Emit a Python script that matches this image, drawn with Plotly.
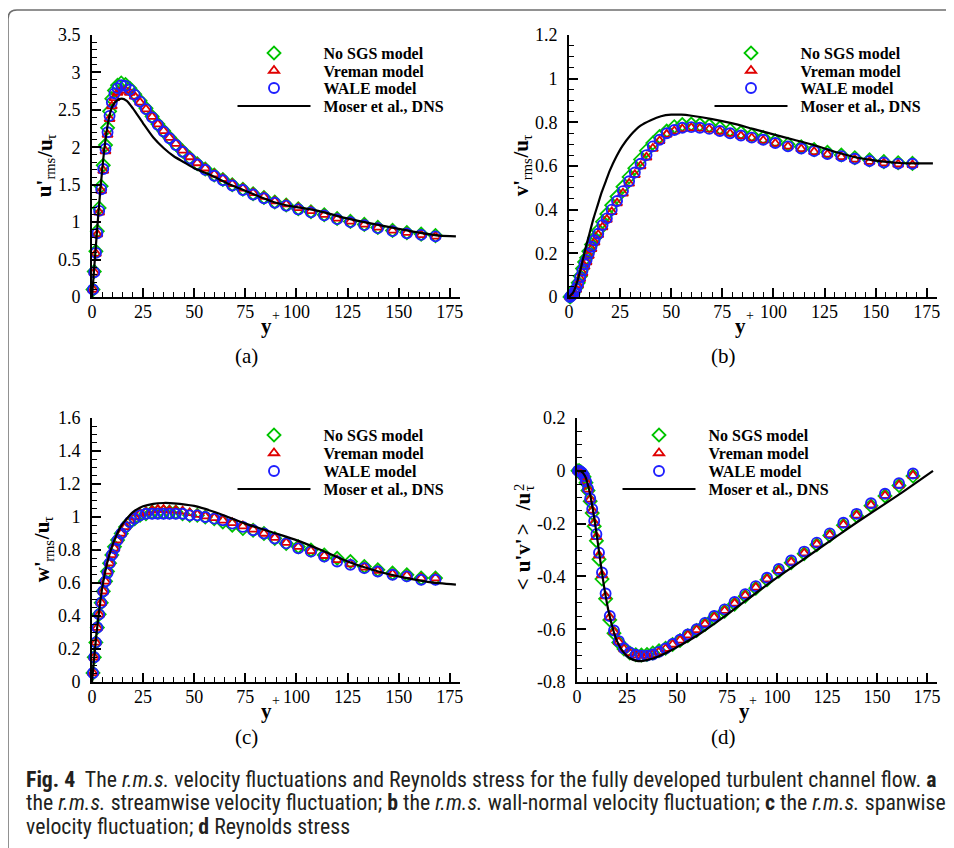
import plotly.graph_objects as go

# ---------------- data ----------------
yplus = [0.5, 1.1, 1.9, 2.6, 3.5, 4.5, 5.5, 6.6, 7.6, 8.6,
         9.7, 11.0, 12.5, 14.3, 16.4, 18.5, 20.9, 23.5, 26.4, 29.4,
         32.2, 35.0, 37.9, 41.0, 44.3, 47.8, 51.5, 55.4, 59.8, 64.0,
         68.6, 73.8, 78.8, 84.1, 89.4, 95.0, 100.9, 107.1, 113.6, 119.9,
         126.4, 133.2, 139.8, 147.0, 154.0, 161.0, 168.0]

# (a) u'rms / u_tau
a_nosgs = [0.10, 0.34, 0.61, 0.88, 1.19, 1.48, 1.76, 2.03, 2.26, 2.48,
           2.65, 2.76, 2.83, 2.86, 2.84, 2.79, 2.71, 2.62, 2.52, 2.41,
           2.31, 2.22, 2.13, 2.04, 1.95, 1.86, 1.78, 1.71, 1.63, 1.57,
           1.50, 1.44, 1.38, 1.33, 1.27, 1.23, 1.18, 1.14, 1.10, 1.05,
           1.01, 0.97, 0.93, 0.89, 0.86, 0.84, 0.82]
a_vreman = [0.10, 0.33, 0.58, 0.84, 1.13, 1.42, 1.69, 1.95, 2.17, 2.38,
            2.55, 2.66, 2.73, 2.76, 2.76, 2.73, 2.68, 2.60, 2.51, 2.41,
            2.31, 2.22, 2.13, 2.05, 1.96, 1.87, 1.79, 1.72, 1.64, 1.58,
            1.51, 1.45, 1.39, 1.34, 1.28, 1.24, 1.19, 1.15, 1.10, 1.05,
            1.01, 0.97, 0.93, 0.89, 0.86, 0.83, 0.81]
a_wale = [0.10, 0.33, 0.59, 0.85, 1.15, 1.44, 1.71, 1.98, 2.20, 2.42,
          2.60, 2.72, 2.79, 2.83, 2.82, 2.77, 2.70, 2.61, 2.51, 2.40,
          2.30, 2.21, 2.12, 2.03, 1.94, 1.85, 1.77, 1.70, 1.62, 1.56,
          1.49, 1.43, 1.37, 1.32, 1.26, 1.22, 1.17, 1.13, 1.09, 1.04,
          1.00, 0.96, 0.92, 0.88, 0.85, 0.83, 0.81]
a_dns_y = [0, 1, 2, 3, 4, 5, 6, 7, 8, 9, 10, 12, 14.5, 17, 20, 25, 30, 35, 40, 45,
           50, 58, 66, 74, 82, 90, 98, 107, 115, 123, 135, 150, 160, 170, 178]
a_dns = [0, 0.36, 0.72, 1.07, 1.40, 1.70, 1.97, 2.18, 2.35, 2.47, 2.55, 2.62, 2.65, 2.62,
         2.52, 2.32, 2.13, 1.99, 1.88, 1.80, 1.72, 1.63, 1.52, 1.43, 1.34, 1.26, 1.21,
         1.17, 1.12, 1.06, 0.99, 0.91, 0.86, 0.82, 0.81]

# (b) v'rms / u_tau
b_nosgs = [0.0, 0.006, 0.014, 0.025, 0.042, 0.065, 0.095, 0.13, 0.16, 0.18,
           0.21, 0.24, 0.27, 0.305, 0.345, 0.38, 0.42, 0.46, 0.505, 0.55,
           0.59, 0.63, 0.67, 0.705, 0.735, 0.76, 0.78, 0.79, 0.792, 0.79,
           0.785, 0.775, 0.765, 0.753, 0.742, 0.73, 0.715, 0.70, 0.688, 0.675,
           0.663, 0.65, 0.638, 0.628, 0.62, 0.615, 0.612]
b_vreman = [0.0, 0.004, 0.01, 0.02, 0.034, 0.055, 0.083, 0.11, 0.14, 0.16,
            0.19, 0.22, 0.25, 0.285, 0.32, 0.355, 0.39, 0.43, 0.475, 0.52,
            0.56, 0.60, 0.64, 0.68, 0.715, 0.745, 0.76, 0.77, 0.775, 0.772,
            0.768, 0.758, 0.748, 0.738, 0.728, 0.717, 0.703, 0.69, 0.678, 0.665,
            0.653, 0.642, 0.63, 0.62, 0.613, 0.608, 0.605]
b_wale = [0.0, 0.005, 0.012, 0.022, 0.038, 0.06, 0.09, 0.12, 0.15, 0.17,
          0.20, 0.23, 0.26, 0.29, 0.33, 0.36, 0.40, 0.44, 0.485, 0.53,
          0.57, 0.61, 0.65, 0.69, 0.72, 0.75, 0.765, 0.775, 0.778, 0.775,
          0.77, 0.76, 0.75, 0.74, 0.73, 0.72, 0.705, 0.69, 0.68, 0.668,
          0.655, 0.645, 0.633, 0.623, 0.616, 0.611, 0.61]
b_dns_y = [0, 2, 4, 6, 8, 10, 12, 14, 16, 18, 20, 23, 26, 30, 35, 40, 45, 50, 55, 60,
           70, 80, 90, 100, 110, 120, 130, 140, 150, 160, 170, 178]
b_dns = [0, 0.02, 0.07, 0.14, 0.22, 0.29, 0.36, 0.42, 0.48, 0.53, 0.58, 0.64, 0.69, 0.74,
         0.785, 0.81, 0.828, 0.835, 0.835, 0.83, 0.815, 0.795, 0.77, 0.745, 0.72, 0.695,
         0.665, 0.64, 0.625, 0.615, 0.612, 0.612]

# (c) w'rms / u_tau
c_nosgs = [0.055, 0.15, 0.24, 0.33, 0.41, 0.48, 0.55, 0.61, 0.67, 0.72,
           0.77, 0.82, 0.86, 0.90, 0.94, 0.97, 0.99, 1.01, 1.02, 1.03,
           1.03, 1.03, 1.03, 1.03, 1.02, 1.01, 1.01, 1.00, 0.99, 0.97,
           0.95, 0.93, 0.92, 0.90, 0.87, 0.84, 0.82, 0.80, 0.77, 0.75,
           0.73, 0.70, 0.68, 0.66, 0.65, 0.63, 0.63]
c_vreman = [0.055, 0.15, 0.24, 0.33, 0.41, 0.48, 0.55, 0.61, 0.67, 0.72,
            0.77, 0.81, 0.86, 0.90, 0.94, 0.98, 1.00, 1.02, 1.03, 1.04,
            1.045, 1.045, 1.04, 1.04, 1.035, 1.025, 1.015, 1.005, 0.995, 0.98,
            0.965, 0.945, 0.925, 0.90, 0.875, 0.845, 0.82, 0.795, 0.765, 0.74,
            0.715, 0.695, 0.675, 0.655, 0.645, 0.63, 0.63]
c_wale = [0.055, 0.15, 0.24, 0.33, 0.41, 0.48, 0.55, 0.61, 0.66, 0.72,
          0.77, 0.81, 0.86, 0.90, 0.94, 0.97, 0.99, 1.01, 1.02, 1.02,
          1.02, 1.02, 1.02, 1.02, 1.02, 1.01, 1.01, 1.00, 0.99, 0.98,
          0.96, 0.94, 0.92, 0.90, 0.87, 0.84, 0.81, 0.79, 0.76, 0.73,
          0.71, 0.69, 0.67, 0.65, 0.64, 0.62, 0.62]
c_dns_y = [0, 0.5, 1, 1.5, 2, 3, 4, 5, 6, 7, 8, 10, 12, 14, 17, 20, 25, 30, 35, 40,
           50, 60, 75, 90, 100, 112, 125, 140, 150, 165, 178]
c_dns = [0, 0.07, 0.14, 0.20, 0.27, 0.38, 0.48, 0.57, 0.64, 0.70, 0.75, 0.83, 0.89, 0.94,
         0.99, 1.03, 1.065, 1.08, 1.085, 1.083, 1.067, 1.03, 0.96, 0.90, 0.86, 0.80, 0.73,
         0.67, 0.64, 0.605, 0.59]

# (d) <u'v'> / u_tau^2
d_nosgs = [0.0, 0.0, -0.004, -0.01, -0.023, -0.045, -0.075, -0.115, -0.16, -0.21,
           -0.265, -0.335, -0.41, -0.485, -0.565, -0.615, -0.65, -0.675, -0.69, -0.697,
           -0.698, -0.696, -0.69, -0.682, -0.672, -0.658, -0.643, -0.625, -0.605, -0.582,
           -0.557, -0.532, -0.505, -0.475, -0.445, -0.413, -0.38, -0.348, -0.314, -0.28,
           -0.245, -0.206, -0.171, -0.132, -0.095, -0.056, -0.02]
d_vreman = [0.0, 0.0, -0.003, -0.009, -0.021, -0.042, -0.07, -0.108, -0.15, -0.197,
            -0.25, -0.32, -0.395, -0.475, -0.555, -0.61, -0.648, -0.675, -0.69, -0.698,
            -0.70, -0.70, -0.695, -0.686, -0.674, -0.658, -0.642, -0.623, -0.603, -0.58,
            -0.555, -0.53, -0.502, -0.472, -0.442, -0.41, -0.378, -0.346, -0.312, -0.278,
            -0.243, -0.204, -0.169, -0.13, -0.094, -0.055, -0.018]
d_wale = [0.0, 0.0, -0.003, -0.008, -0.02, -0.04, -0.068, -0.105, -0.145, -0.19,
          -0.24, -0.31, -0.385, -0.465, -0.55, -0.605, -0.645, -0.672, -0.688, -0.697,
          -0.70, -0.70, -0.696, -0.686, -0.673, -0.656, -0.64, -0.62, -0.60, -0.576,
          -0.55, -0.525, -0.497, -0.467, -0.437, -0.405, -0.372, -0.34, -0.306, -0.272,
          -0.237, -0.197, -0.163, -0.123, -0.087, -0.047, -0.01]
d_dns_y = [0, 2, 4, 6, 8, 10, 12, 14, 16, 18, 20, 23, 26, 30, 33, 36, 40, 45, 50, 60,
           75, 90, 100, 120, 140, 160, 178]
d_dns = [0, -0.002, -0.02, -0.07, -0.15, -0.25, -0.36, -0.46, -0.54, -0.60, -0.645, -0.685,
         -0.708, -0.72, -0.72, -0.715, -0.705, -0.688, -0.668, -0.625, -0.545, -0.46, -0.405,
         -0.30, -0.195, -0.095, 0.0]

series_names = ["No SGS model", "Vreman model", "WALE model", "Moser et al., DNS"]

x_tickvals = [0, 25, 50, 75, 100, 125, 150, 175]
x_ticktext = ["0", "25", "50", "75", "100", "125", "150", "175"]
a_tickvals = [0, 0.5, 1, 1.5, 2, 2.5, 3, 3.5]
a_ticktext = ["0", "0.5", "1", "1.5", "2", "2.5", "3", "3.5"]
b_tickvals = [0, 0.2, 0.4, 0.6, 0.8, 1.0, 1.2]
b_ticktext = ["0", "0.2", "0.4", "0.6", "0.8", "1", "1.2"]
c_tickvals = [0, 0.2, 0.4, 0.6, 0.8, 1.0, 1.2, 1.4, 1.6]
c_ticktext = ["0", "0.2", "0.4", "0.6", "0.8", "1", "1.2", "1.4", "1.6"]
d_tickvals = [-0.8, -0.6, -0.4, -0.2, 0, 0.2]
d_ticktext = ["-0.8", "-0.6", "-0.4", "-0.2", "0", "0.2"]

# ---------------- layout helpers ----------------
# The page body has an 8 px margin, so the figure is drawn 8 px smaller and
# positions below are given in window pixels, converted to paper fractions.
OFF = 8
W, H = 954 - OFF, 848 - OFF


def px(x):
    return (x - OFF) / W


def py(y):
    return 1 - (y - OFF) / H


SERIF = "Liberation Serif"
CAPFONT = "Liberation Sans Narrow, Roboto Condensed, DejaVu Sans Condensed, Roboto, sans-serif"

marker_styles = [
    dict(symbol="diamond-open", size=10, color="#00c400", line=dict(width=1.8, color="#00c400")),
    dict(symbol="triangle-up-open", size=9, color="#e00000", line=dict(width=1.8, color="#e00000")),
    dict(symbol="circle-open", size=10, color="#1e1eff", line=dict(width=1.9, color="#1e1eff")),
]

panels = [
    dict(key="", les=[a_nosgs, a_vreman, a_wale], dx=a_dns_y, dy=a_dns,
         xdom=(92, 460), ydom=(297, 35), yr=[0, 3.5], tv=a_tickvals, tt=a_ticktext, ymin=0.1,
         leg_x=232.5, leg_rows=[53, 70.5, 88, 106]),
    dict(key="2", les=[b_nosgs, b_vreman, b_wale], dx=b_dns_y, dy=b_dns,
         xdom=(569, 937), ydom=(297, 35), yr=[0, 1.2], tv=b_tickvals, tt=b_ticktext, ymin=0.05,
         leg_x=709.5, leg_rows=[53, 70.5, 88, 106]),
    dict(key="3", les=[c_nosgs, c_vreman, c_wale], dx=c_dns_y, dy=c_dns,
         xdom=(92, 460), ydom=(682, 418), yr=[0, 1.6], tv=c_tickvals, tt=c_ticktext, ymin=0.05,
         leg_x=232.5, leg_rows=[435, 453, 471, 489]),
    dict(key="4", les=[d_nosgs, d_vreman, d_wale], dx=d_dns_y, dy=d_dns,
         xdom=(577, 937), ydom=(682, 418), yr=[-0.8, 0.2], tv=d_tickvals, tt=d_ticktext, ymin=0.05,
         leg_x=617.5, leg_rows=[435, 453, 471, 489]),
]

LEG_ITEM_W = 73
LEG_FONT = 16
LEG_OFFSET = (LEG_FONT * 1.3 + 3) / 2 + 5   # distance from legend top to item centre

fig = go.Figure()
layout_extra = {}
leg_count = 0


def next_legend():
    global leg_count
    leg_count += 1
    return "legend" if leg_count == 1 else "legend%d" % leg_count


def add_legend(lid, left, row):
    layout_extra[lid] = dict(
        x=px(left), y=py(row - LEG_OFFSET), xanchor="left", yanchor="top",
        itemwidth=LEG_ITEM_W, bgcolor="rgba(0,0,0,0)", borderwidth=0,
        font=dict(family=SERIF, size=LEG_FONT, color="black", weight="bold"),
        itemclick=False, itemdoubleclick=False)


for p in panels:
    k = p["key"]
    xa, ya = "x" + k, "y" + k
    for i, vals in enumerate(p["les"]):
        lid = next_legend()
        add_legend(lid, p["leg_x"], p["leg_rows"][i])
        fig.add_trace(go.Scatter(
            x=yplus, y=vals, mode="markers", name="\u00a0\u00a0" + series_names[i],
            marker=marker_styles[i], xaxis=xa, yaxis=ya, legend=lid,
            cliponaxis=False, hoverinfo="skip"))
    lid = next_legend()
    add_legend(lid, p["leg_x"], p["leg_rows"][3])
    fig.add_trace(go.Scatter(
        x=p["dx"], y=p["dy"], mode="lines", name="\u00a0\u00a0" + series_names[3],
        line=dict(color="black", width=2.2, shape="spline", smoothing=0.6),
        xaxis=xa, yaxis=ya, legend=lid, cliponaxis=False, hoverinfo="skip"))

    common = dict(ticks="inside", ticklen=9, tickwidth=1.5, tickcolor="black",
                  showline=True, linewidth=2, linecolor="black", showgrid=False,
                  zeroline=False, fixedrange=True,
                  tickfont=dict(family=SERIF, size=18, color="black"))
    layout_extra["xaxis" + k] = dict(
        domain=[px(p["xdom"][0]), px(p["xdom"][1])], anchor=ya, range=[0, 180],
        tickmode="array", tickvals=x_tickvals, ticktext=x_ticktext, ticklabelstandoff=-3,
        minor=dict(tickmode="linear", tick0=0, dtick=5, ticks="inside", ticklen=5,
                   tickwidth=1.2, tickcolor="black"),
        **common)
    layout_extra["yaxis" + k] = dict(
        domain=[py(p["ydom"][0]), py(p["ydom"][1])], anchor=xa, range=p["yr"],
        tickmode="array", tickvals=p["tv"], ticktext=p["tt"], ticklabelstandoff=6,
        minor=dict(tickmode="linear", tick0=0, dtick=p["ymin"], ticks="inside", ticklen=5,
                   tickwidth=1.2, tickcolor="black"),
        **common)

annotations = []


def add_text(x, y, text, size=20, angle=0, xanchor="center", bold=False, family=SERIF,
             color="black"):
    annotations.append(dict(
        x=px(x), y=py(y), xref="paper", yref="paper", text=text, showarrow=False,
        xanchor=xanchor, yanchor="middle", textangle=angle,
        font=dict(family=family, size=size, color=color, weight="bold" if bold else "normal")))


# rotated y-axis titles built from pieces (main text bold, subscripts regular)
MAIN, SUB = 21, 14.5


def ytitle(main_x, yc, pieces):
    # pieces: list of (text, em_width, is_sub)
    widths = [em * (SUB if sub else MAIN) for (_, em, sub) in pieces]
    s = yc + sum(widths) / 2
    for (t, em, sub), w in zip(pieces, widths):
        c = s - w / 2
        if sub:
            add_text(main_x + 6, c, t, size=SUB, angle=-90)
        else:
            add_text(main_x, c, t, size=MAIN, angle=-90, bold=True)
        s -= w


ytitle(44.3, 165, [("u'", 0.834, False), ("rms", 1.5, True), ("/u", 0.834, False), ("\u03c4", 0.45, True)])
ytitle(521.3, 165, [("v'", 0.778, False), ("rms", 1.5, True), ("/u", 0.834, False), ("\u03c4", 0.45, True)])
ytitle(42.3, 549, [("w'", 1.0, False), ("rms", 1.5, True), ("/u", 0.834, False), ("\u03c4", 0.45, True)])
# panel d: <u'v'>/u with stacked 2 and tau
add_text(523.3, 584, "&lt;", size=MAIN, angle=-90, bold=True)
add_text(523.3, 555, "u'v'", size=MAIN, angle=-90, bold=True)
add_text(523.3, 529, "&gt;", size=MAIN, angle=-90, bold=True)
add_text(523.3, 502, "/u", size=MAIN, angle=-90, bold=True)
add_text(519.0, 488, "2", size=SUB, angle=-90)
add_text(529.3, 488, "\u03c4", size=SUB, angle=-90)

# x-axis titles: bold y with superscript +
for (xx, xp, yy) in [(266, 276, 326), (740, 750, 326), (266, 276, 711), (744, 753, 711)]:
    add_text(xx, yy, "y", size=MAIN, bold=True)
    add_text(xp, yy - 10.5, "+", size=14)

# panel labels
for (xx, yy, t) in [(247, 356, "(a)"), (723, 356, "(b)"), (247, 737, "(c)"), (723, 737, "(d)")]:
    add_text(xx, yy, t, size=21)

# caption
CAPSIZE = 21.8
add_text(24, 779, "<b>Fig. 4</b>\u00a0 The <i>r.m.s.</i> velocity fluctuations and Reynolds stress "
         "for the fully developed turbulent channel flow. <b>a</b>", xanchor="left",
         size=CAPSIZE, family=CAPFONT, color="#231f20")
add_text(24, 802, "the <i>r.m.s.</i> streamwise velocity fluctuation; <b>b</b> the <i>r.m.s.</i> "
         "wall-normal velocity fluctuation; <b>c</b> the <i>r.m.s.</i> spanwise",
         xanchor="left", size=CAPSIZE, family=CAPFONT, color="#231f20")
add_text(24, 826, "velocity fluctuation; <b>d</b> Reynolds stress", xanchor="left",
         size=CAPSIZE, family=CAPFONT, color="#231f20")

border = (f"M {px(8)},{py(1000)} L {px(8)},{py(19)} Q {px(8)},{py(10)} {px(17)},{py(10)} "
          f"L {px(1100)},{py(10)}")

fig.update_layout(
    width=W, height=H, margin=dict(l=0, r=0, t=0, b=0, pad=0, autoexpand=False),
    paper_bgcolor="white", plot_bgcolor="rgba(0,0,0,0)",
    showlegend=True,
    annotations=annotations,
    shapes=[dict(type="path", path=border, xref="paper", yref="paper",
                 line=dict(color="#6d6d6d", width=1.5), fillcolor="rgba(0,0,0,0)")],
    **layout_extra,
)

fig.write_html("out.html")
